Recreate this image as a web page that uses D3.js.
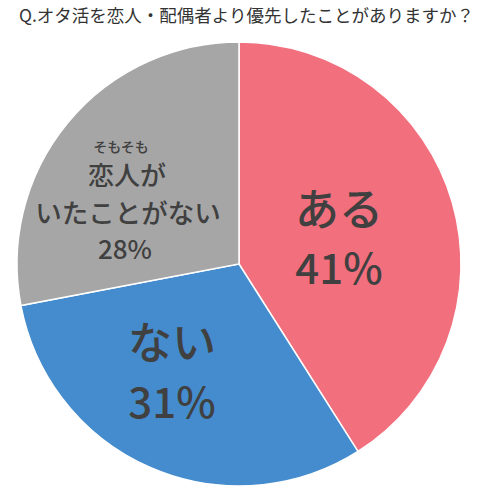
<!DOCTYPE html>
<html>
<head>
<meta charset="utf-8">
<script src="https://d3js.org/d3.v7.min.js"></script>
<style>body{margin:0;background:#fff}</style>
</head>
<body>
<div id="chart"></div>
<script>
const title = "Q.オタ活を恋人・配偶者より優先したことがありますか？";
const categories = ["ある", "ない", "そもそも恋人がいたことがない"];
const values = [41, 31, 28];
const colors = ["#f26f7e", "#448ccd", "#a6a6a6"];

const width = 482, height = 498;
const cx = 239, cy = 264, r = 222;

const svg = d3.select("#chart").append("svg")
  .attr("width", width).attr("height", height);

svg.append("text").attr("x", 19).attr("y", 22)
  .attr("font-family", "Noto Sans CJK JP").attr("font-size", 17.5)
  .attr("fill", "#333").text(title);

const pie = d3.pie().sort(null)(values);
const arc = d3.arc().innerRadius(0).outerRadius(r);

const g = svg.append("g").attr("transform", `translate(${cx},${cy})`);
g.selectAll("path").data(pie).join("path")
  .attr("d", arc)
  .attr("fill", (d, i) => colors[i])
  .attr("stroke", "#fff").attr("stroke-width", 1.5);

// ラベル（行ごと）
const labels = [
  [{t: categories[0], x: 100, y: -38, s: 44}, {t: values[0] + "%", x: 100, y: 20, s: 42}],
  [{t: categories[1], x: -67, y: 95, s: 44}, {t: values[1] + "%", x: -67, y: 154, s: 42}],
  [{t: "そもそも", x: -118, y: -112, s: 14},
   {t: "恋人が", x: -112, y: -79, s: 26},
   {t: "いたことがない", x: -111, y: -41, s: 26.5},
   {t: values[2] + "%", x: -114, y: -5, s: 26}]
];
labels.forEach(lines => lines.forEach(l => {
  g.append("text").attr("x", l.x).attr("y", l.y)
    .attr("text-anchor", "middle")
    .attr("font-family", "Noto Sans CJK JP").attr("font-weight", 500)
    .attr("font-size", l.s).attr("fill", "#404040").text(l.t);
}));
</script>
</body>
</html>
